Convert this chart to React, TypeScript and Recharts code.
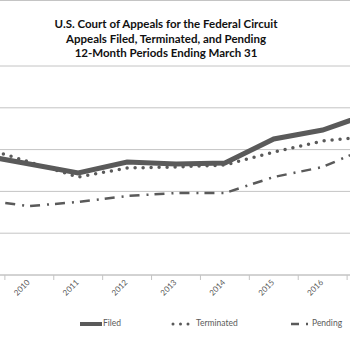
import { CartesianGrid, Line, LineChart, XAxis, YAxis } from "recharts";

const years = [2009, 2010, 2011, 2012, 2013, 2014, 2015, 2016, 2017];
const filed = [1435, 1328, 1220, 1352, 1328, 1340, 1627, 1734, 1938];
const terminated = [1531, 1352, 1172, 1280, 1292, 1316, 1471, 1603, 1663];
const pending = [897, 825, 873, 945, 981, 981, 1172, 1292, 1543];
const yTicks = [0, 500, 1000, 1500, 2000, 2500];
const xTicks = [2009.5, 2010, 2010.5, 2011, 2011.5, 2012, 2012.5, 2013, 2013.5, 2014, 2014.5, 2015, 2015.5, 2016, 2016.5];

const data = years.map((y, i) => ({
  year: y,
  Filed: filed[i],
  Terminated: terminated[i],
  Pending: pending[i],
}));

const ink = "#5a5a5a";
const grid = "#c4c4c4";
const font = "Lato, 'Open Sans', sans-serif";

function YearTick({ x, y, payload }: any) {
  const v = payload.value;
  if (v % 1 !== 0) {
    // band boundary -> small tick mark
    return <line x1={x} y1={275} x2={x} y2={280} stroke={grid} />;
  }
  return (
    <text
      x={x + 1}
      y={283}
      transform={`rotate(-45, ${x + 1}, 283)`}
      textAnchor="end"
      fontSize={8}
      fill={ink}
      fontFamily={font}
    >
      {v}
    </text>
  );
}

function LegendRow() {
  return (
    <div style={{ position: "absolute", left: 0, top: 318, width: 350, height: 14, fontFamily: font, fontSize: 8.5, color: ink }}>
      <svg width={24} height={12} style={{ position: "absolute", left: 79, top: 0 }}>
        <line x1={1} y1={6} x2={23} y2={6} stroke={ink} strokeWidth={4} />
      </svg>
      <span style={{ position: "absolute", left: 103, top: 0 }}>Filed</span>
      <svg width={22} height={12} style={{ position: "absolute", left: 171, top: 0 }}>
        <line x1={2} y1={6} x2={20} y2={6} stroke={ink} strokeWidth={3} strokeDasharray="0 7.5" strokeLinecap="round" />
      </svg>
      <span style={{ position: "absolute", left: 196, top: 0 }}>Terminated</span>
      <svg width={20} height={12} style={{ position: "absolute", left: 290, top: 0 }}>
        <line x1={1} y1={6} x2={18} y2={6} stroke={ink} strokeWidth={2.5} strokeDasharray="8 7 2 6" />
      </svg>
      <span style={{ position: "absolute", left: 312, top: 0 }}>Pending</span>
    </div>
  );
}

export default function App() {
  return (
    <div style={{ position: "absolute", left: 0, top: 0, width: 350, height: 350, overflow: "hidden", background: "#fff" }}>
      <div style={{ position: "absolute", left: 0, top: 0, width: 350, height: 1, background: grid }} />
      <div
        style={{
          position: "absolute",
          left: 0,
          top: 17,
          width: 332,
          textAlign: "center",
          fontFamily: font,
          fontWeight: 700,
          fontSize: 11.5,
          lineHeight: "14.5px",
          color: "#111",
        }}
      >
        U.S. Court of Appeals for the Federal Circuit
        <br />
        Appeals Filed, Terminated, and Pending
        <br />
        12-Month Periods Ending March 31
      </div>
      <div style={{ position: "absolute", left: -44, top: 0 }}>
        <LineChart width={440} height={350} data={data} margin={{ top: 66, right: 0, bottom: 0, left: 0 }}>
          <CartesianGrid vertical={false} stroke={grid} />
          <YAxis hide domain={[0, 2500]} ticks={yTicks} />
          <XAxis
            dataKey="year"
            type="number"
            domain={[2008.5, 2017.5]}
            ticks={xTicks}
            interval={0}
            tick={<YearTick />}
            tickLine={false}
            axisLine={{ stroke: grid }}
            height={75}
          />
          <Line type="linear" dataKey="Pending" stroke={ink} strokeWidth={2.5} strokeDasharray="10 7 2 6" dot={false} isAnimationActive={false} />
          <Line type="linear" dataKey="Terminated" stroke={ink} strokeWidth={3.5} strokeDasharray="0 8" strokeLinecap="round" dot={false} isAnimationActive={false} />
          <Line type="linear" dataKey="Filed" stroke={ink} strokeWidth={5} dot={false} isAnimationActive={false} />
        </LineChart>
      </div>
      <LegendRow />
    </div>
  );
}
